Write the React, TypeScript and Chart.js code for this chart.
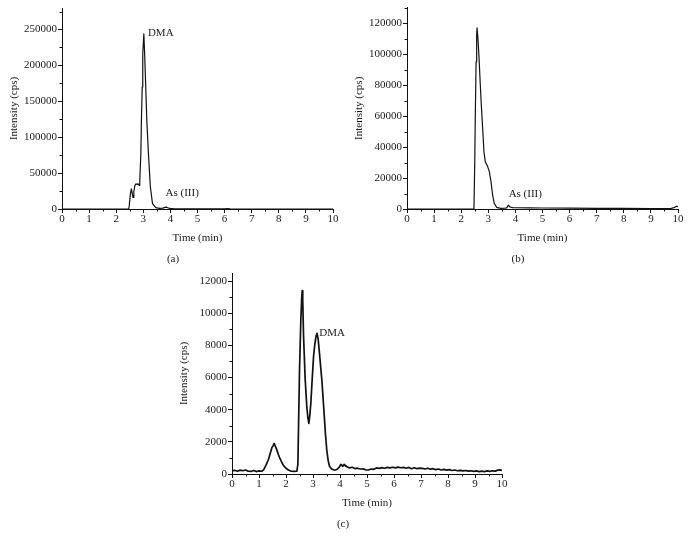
import React, { useEffect, useRef } from 'react';
import { Chart, registerables } from 'chart.js';

Chart.register(...registerables);

const FONT = "'Liberation Serif', 'DejaVu Serif', serif";

// Shared x axis (retention time, min)
const xTicks = [0, 1, 2, 3, 4, 5, 6, 7, 8, 9, 10];

// Panel (a)
const aTicks = [0, 50000, 100000, 150000, 200000, 250000];
const aTime = [
  0, 2.46, 2.48, 2.52, 2.56, 2.59, 2.62, 2.65, 2.69, 2.73,
  2.77, 2.81, 2.85, 2.87, 2.91, 2.93, 2.96, 2.98, 3.02, 3.05,
  3.09, 3.13, 3.19, 3.26, 3.34, 3.46, 3.6, 3.72, 3.8, 3.85,
  3.9, 3.98, 4.1, 4.4, 5, 6.0, 6.1, 6.2, 7, 10,
];
const aIntensity = [
  0, 0, 4000, 20000, 28000, 22000, 16000, 24000, 33000, 35000,
  34000, 35000, 33000, 40000, 77000, 123000, 170000, 216000, 244000, 216000,
  170000, 123000, 77000, 31000, 7400, 1800, 1000, 1200, 2200, 2600,
  1800, 900, 400, 200, 100, 100, 600, 100, 0, 0,
];

// Panel (b)
const bTicks = [0, 20000, 40000, 60000, 80000, 100000, 120000];
const bTime = [
  0, 2.47, 2.5, 2.52, 2.55, 2.57, 2.585, 2.62, 2.66, 2.7,
  2.75, 2.8, 2.84, 2.89, 2.93, 2.98, 3.04, 3.1, 3.16, 3.22,
  3.31, 3.46, 3.6, 3.68, 3.74, 3.8, 3.9, 4.0, 4.5, 5,
  6, 7, 8, 9, 9.6, 9.75, 9.85, 9.92, 9.96, 10,
];
const bIntensity = [
  0, 0, 30000, 60000, 95000, 112000, 117000, 109700, 96900, 81900,
  64700, 49700, 36900, 30400, 29000, 27200, 24000, 17600, 9000, 3600,
  1000, 400, 500, 700, 2500, 1300, 900, 800, 700, 650,
  550, 450, 350, 300, 250, 400, 900, 1500, 1800, 1400,
];

// Panel (c)
const cTicks = [0, 2000, 4000, 6000, 8000, 10000, 12000];
const cTime = [
  0, 0.1, 0.2, 0.3, 0.4, 0.5, 0.6, 0.7, 0.8, 0.9,
  1.0, 1.1, 1.17, 1.25, 1.35, 1.42, 1.48, 1.52, 1.56, 1.6,
  1.66, 1.72, 1.78, 1.85, 1.91, 2.0, 2.09, 2.2, 2.3, 2.4,
  2.44, 2.47, 2.5, 2.55, 2.58, 2.6, 2.62, 2.65, 2.71, 2.77,
  2.81, 2.845, 2.88, 2.92, 2.97, 3.02, 3.07, 3.11, 3.15, 3.19,
  3.24, 3.33, 3.41, 3.46, 3.51, 3.56, 3.61, 3.68, 3.76, 3.83,
  3.9, 3.97, 4.03, 4.06, 4.1, 4.15, 4.19, 4.22, 4.28, 4.35,
  4.45, 4.55, 4.65, 4.75, 4.85, 4.95, 5.05, 5.15, 5.25, 5.35,
  5.45, 5.55, 5.65, 5.75, 5.85, 5.95, 6.05, 6.15, 6.25, 6.35,
  6.45, 6.55, 6.65, 6.75, 6.85, 6.95, 7.05, 7.15, 7.25, 7.35,
  7.45, 7.55, 7.65, 7.75, 7.85, 7.95, 8.05, 8.15, 8.25, 8.35,
  8.45, 8.55, 8.65, 8.75, 8.85, 8.95, 9.05, 9.15, 9.25, 9.35,
  9.45, 9.55, 9.65, 9.75, 9.85, 9.92, 10,
];
const cIntensity = [
  190, 230, 170, 240, 200, 250, 180, 160, 220, 150,
  190, 170, 260, 520, 900, 1300, 1650, 1750, 1900, 1750,
  1500, 1200, 950, 700, 520, 360, 250, 170, 160, 170,
  600, 3500, 6400, 9600, 10900, 11400, 10800, 8600, 5900, 4200,
  3500, 3150, 3600, 4400, 5900, 7300, 8100, 8550, 8750, 8400,
  7500, 5800, 3800, 2500, 1500, 850, 480, 330, 260, 250,
  300, 420, 600, 560, 470, 600, 520, 480, 430, 380,
  420, 340, 360, 310, 320, 260, 250, 310, 290, 380,
  350, 400, 360, 410, 380, 420, 380, 430, 390, 410,
  360, 410, 330, 390, 330, 370, 350, 310, 360, 300,
  330, 270, 310, 250, 290, 240, 270, 220, 250, 200,
  230, 190, 220, 180, 200, 160, 190, 150, 180, 150,
  190, 160, 200, 180, 240, 260, 230,
];

type Note = { text: string; t: number; v: number };
type Panel = {
  time: number[];
  values: number[];
  yMax: number;
  yTicks: number[];
  yMinorStep: number;
  notes: Note[];
  caption: string;
  lineWidth: number;
  box: { left: number; top: number; width: number; height: number };
  area: { left: number; top: number; right: number; bottom: number };
};

const panels: Panel[] = [
  {
    time: aTime, values: aIntensity, yMax: 280000, yTicks: aTicks, yMinorStep: 25000,
    notes: [{ text: 'DMA', t: 3.17, v: 244700 }, { text: 'As (III)', t: 3.82, v: 22300 }],
    caption: '(a)', lineWidth: 1.2,
    box: { left: 0, top: 0, width: 345, height: 270 },
    area: { left: 62, top: 8, right: 333, bottom: 209 },
  },
  {
    time: bTime, values: bIntensity, yMax: 130000, yTicks: bTicks, yMinorStep: 10000,
    notes: [{ text: 'As (III)', t: 3.75, v: 9650 }],
    caption: '(b)', lineWidth: 1.2,
    box: { left: 345, top: 0, width: 346, height: 270 },
    area: { left: 62, top: 7, right: 333, bottom: 209 },
  },
  {
    time: cTime, values: cIntensity, yMax: 12500, yTicks: cTicks, yMinorStep: 1000,
    notes: [{ text: 'DMA', t: 3.23, v: 8785 }],
    caption: '(c)', lineWidth: 1.7,
    box: { left: 170, top: 260, width: 350, height: 277 },
    area: { left: 62, top: 13, right: 332, bottom: 214 },
  },
];

function decor(p: Panel) {
  return {
    id: 'decor-' + p.caption,
    afterDraw(chart: any) {
      const { ctx, chartArea: a, scales } = chart;
      const x = scales.x;
      const y = scales.y;
      ctx.save();
      ctx.strokeStyle = '#111';
      ctx.lineWidth = 1;
      ctx.beginPath();
      for (let v = p.yMinorStep; v <= p.yMax + 1; v += p.yMinorStep) {
        if (p.yTicks.includes(v)) continue;
        const py = Math.round(y.getPixelForValue(v)) + 0.5;
        ctx.moveTo(a.left - 2.5, py);
        ctx.lineTo(a.left, py);
      }
      for (let t = 0.5; t < 10; t += 1) {
        const px = Math.round(x.getPixelForValue(t)) + 0.5;
        ctx.moveTo(px, a.bottom);
        ctx.lineTo(px, a.bottom + 2.5);
      }
      ctx.stroke();

      ctx.fillStyle = '#1a1a1a';
      ctx.font = `11px ${FONT}`;
      ctx.textBaseline = 'middle';
      ctx.textAlign = 'left';
      for (const n of p.notes) {
        ctx.fillText(n.text, x.getPixelForValue(n.t), y.getPixelForValue(n.v));
      }
      ctx.textAlign = 'center';
      ctx.fillText('Time (min)', (a.left + a.right) / 2, a.bottom + 29);
      ctx.fillText(p.caption, a.left + 111, a.bottom + 50);
      ctx.translate(a.left - 48, (a.top + a.bottom) / 2);
      ctx.rotate(-Math.PI / 2);
      ctx.fillText('Intensity (cps)', 0, 0);
      ctx.restore();
    },
  };
}

function ChromPanel({ p }: { p: Panel }) {
  const ref = useRef<HTMLCanvasElement>(null);
  useEffect(() => {
    const canvas = ref.current!;
    const data = p.time.map((t, i) => ({ x: t, y: p.values[i] }));
    const tickFont = { family: FONT, size: 11 };
    const chart = new Chart(canvas, {
      type: 'line',
      data: {
        datasets: [{
          data,
          borderColor: '#111',
          borderWidth: p.lineWidth,
          borderJoinStyle: 'round',
          pointRadius: 0,
          tension: 0,
          fill: false,
        }],
      },
      options: {
        responsive: false,
        animation: false,
        layout: { padding: { left: 0, top: p.area.top, right: p.box.width - p.area.right, bottom: 0 } },
        plugins: { legend: { display: false }, tooltip: { enabled: false } },
        scales: {
          x: {
            type: 'linear', min: 0, max: 10,
            afterBuildTicks: (s: any) => { s.ticks = xTicks.map((v) => ({ value: v })); },
            afterFit: (s: any) => { s.height = p.box.height - p.area.bottom; },
            grid: { drawOnChartArea: false, drawTicks: true, tickLength: 4, color: '#111', lineWidth: 1 },
            border: { display: true, color: '#111', width: 1 },
            ticks: { font: tickFont, color: '#1a1a1a', padding: 0, maxRotation: 0, autoSkip: false, callback: (v: any) => String(v) },
          },
          y: {
            type: 'linear', min: 0, max: p.yMax,
            afterBuildTicks: (s: any) => { s.ticks = p.yTicks.map((v) => ({ value: v })); },
            afterFit: (s: any) => { s.width = p.area.left; },
            grid: { drawOnChartArea: false, drawTicks: true, tickLength: 4, color: '#111', lineWidth: 1 },
            border: { display: true, color: '#111', width: 1 },
            ticks: { font: tickFont, color: '#1a1a1a', padding: 1, autoSkip: false, callback: (v: any) => String(v) },
          },
        },
      },
      plugins: [decor(p)],
    } as any);
    return () => chart.destroy();
  }, [p]);
  return (
    <canvas
      ref={ref}
      width={p.box.width}
      height={p.box.height}
      style={{ position: 'absolute', left: p.box.left, top: p.box.top, width: p.box.width, height: p.box.height }}
    />
  );
}

export default function App() {
  return (
    <div style={{ position: 'absolute', left: 0, top: 0, width: 691, height: 537, background: '#fff', overflow: 'hidden' }}>
      {panels.map((p) => (
        <ChromPanel key={p.caption} p={p} />
      ))}
    </div>
  );
}
